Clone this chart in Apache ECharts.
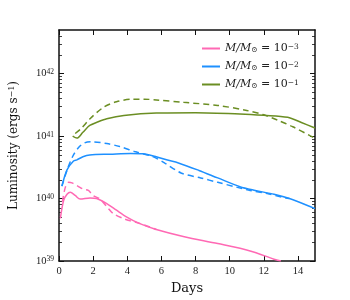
<!DOCTYPE html>
<html>
<head>
<meta charset="utf-8">
<script src="https://cdn.jsdelivr.net/npm/echarts@6/dist/echarts.min.js"></script>
<style>html,body{margin:0;padding:0;background:#fff}#c{width:350px;height:300px}</style>
</head>
<body>
<div id="c"></div>
<script>
// ---- data (days, luminosity in erg/s) ----
var pinkSolidDays = [0.08,0.27,0.47,0.66,0.95,1.24,1.82,2.2,2.8,3.37,3.95,4.7,5.7,7.34,9.3,11.2,12.6,13.0];
var pinkSolidLum  = [4.8e39,9.3e39,1.17e40,1.26e40,1.12e40,9.8e39,1.02e40,1.0e40,8.3e39,6.5e39,5.1e39,4.0e39,3.2e39,2.45e39,1.9e39,1.45e39,1.07e39,1.0e39];
var pinkDashDays  = [0.2,0.37,0.56,0.76,1.1,1.43,1.72,2.0,2.4,2.9,3.18,3.76,4.05,4.73,5.7];
var pinkDashLum   = [8.9e39,1.51e40,1.82e40,1.78e40,1.58e40,1.41e40,1.35e40,1.12e40,9.8e39,6.9e39,5.75e39,4.8e39,4.5e39,4.0e39,3.2e39];

var blueSolidDays = [0.17,0.47,0.85,1.05,1.4,1.8,3.0,4.2,4.9,5.7,6.3,7.0,8.2,9.3,10.6,11.5,12.6,13.5,14.2,15.0];
var blueSolidLum  = [1.58e40,2.88e40,3.98e40,4.17e40,4.68e40,5.0e40,5.13e40,5.25e40,5.2e40,4.68e40,4.17e40,3.72e40,2.82e40,2.14e40,1.55e40,1.35e40,1.17e40,1.0e40,8.5e39,6.9e39];
var blueDashDays  = [0.17,0.5,0.85,1.2,1.5,1.9,2.8,3.56,4.5,5.5,6.2,7.15,8.3,9.3,10.45,11.2,12.2,13.1,13.5];
var blueDashLum   = [1.58e40,3.0e40,5.0e40,6.8e40,7.8e40,8.1e40,7.6e40,6.8e40,5.6e40,4.7e40,3.7e40,2.57e40,2.14e40,1.82e40,1.51e40,1.35e40,1.2e40,1.05e40,1.0e40];

var greenSolidDays = [0.8,1.05,1.4,1.8,2.3,2.8,3.8,5.7,8.0,10.6,12.0,13.4,14.2,15.0];
var greenSolidLum  = [1.0e41,9.3e40,1.15e41,1.48e41,1.7e41,1.9e41,2.14e41,2.34e41,2.37e41,2.26e41,2.15e41,2.0e41,1.65e41,1.35e41];
var greenDashDays  = [0.95,1.3,1.82,2.6,3.37,4.34,5.0,5.7,7.3,9.3,11.0,12.0,12.85,13.7,14.7,15.0];
var greenDashLum   = [1.1e41,1.32e41,1.9e41,2.88e41,3.55e41,3.9e41,3.9e41,3.8e41,3.47e41,3.1e41,2.57e41,2.19e41,1.78e41,1.41e41,1.02e41,9.3e40];

var legendNames = ['M3','M2','M1'];
var legendExps  = ['\u22123','\u22122','\u22121'];
var xTicks = [0,2,4,6,8,10,12,14];
var yMajor = [1e39,1e40,1e41,1e42];
var yMinor = [];
[1e39,1e40,1e41,1e42].forEach(function(d){ for (var k=2;k<=9;k++){ var v=k*d; if (v<=5e42) yMinor.push(v);} });

var PINK='#ff69b4', BLUE='#1e90ff', GREEN='#6b8e23';
function pairs(a,b){ return a.map(function(d,i){ return [d,b[i]]; }); }

var SERIF = '"DejaVu Serif", "Liberation Serif", serif';
var TICKF = '"Liberation Serif", "DejaVu Serif", serif';
var lineW = 1.5;

function mkLine(name, days, lum, color, dashed){
  return {
    name: name, type:'line', xAxisIndex:0, yAxisIndex:0,
    data: pairs(days, lum), showSymbol:false, smooth:0.3,
    clip:true, silent:true,
    lineStyle:{color:color, width:lineW, type: dashed ? [6,4] : 'solid'},
    itemStyle:{color:color}
  };
}

var axisLineStyle = {show:true, lineStyle:{color:'#111', width:1.5}};
var yBase = {type:'log', logBase:10, min:1e39, max:5e42, gridIndex:0, splitLine:{show:false}};

var option = {
  animation:false,
  backgroundColor:'#fff',
  grid:{left:57, right:35, top:30, bottom:35},
  legend:{
    data:legendNames, orient:'vertical', left:197, top:38,
    icon:'rect', itemWidth:18, itemHeight:2, itemGap:7,
    formatter:function(n){ var i=legendNames.indexOf(n);
      return '{i|M/M}{sb|\u2299}{n| = 10}{sp|'+legendExps[i]+'}'; },
    textStyle:{ fontFamily:SERIF, fontSize:11, color:'#222',
      rich:{
        i:{fontFamily:SERIF, fontStyle:'italic', fontSize:11, color:'#222'},
        sb:{fontFamily:SERIF, fontSize:7.5, verticalAlign:'bottom', color:'#222'},
        n:{fontFamily:SERIF, fontSize:11, color:'#222'},
        sp:{fontFamily:SERIF, fontSize:7.5, verticalAlign:'top', color:'#222'}
      }}
  },
  xAxis:[
    {type:'value', min:0, max:15, interval:2, position:'bottom', gridIndex:0,
     axisLine:axisLineStyle, splitLine:{show:false},
     axisTick:{inside:true, length:5, lineStyle:{color:'#111', width:1}, customValues:xTicks},
     axisLabel:{customValues:xTicks, fontFamily:TICKF, fontSize:10.5, color:'#222', margin:5},
     name:'Days', nameLocation:'middle', nameGap:21,
     nameTextStyle:{fontFamily:SERIF, fontSize:13, color:'#111'}},
    {type:'value', min:0, max:15, interval:2, position:'top', gridIndex:0,
     axisLine:axisLineStyle, splitLine:{show:false},
     axisTick:{inside:true, length:5, lineStyle:{color:'#111', width:1}, customValues:xTicks},
     axisLabel:{show:false}}
  ],
  yAxis:[
    Object.assign({}, yBase, {position:'left',
     axisLine:axisLineStyle,
     axisTick:{inside:true, length:5, lineStyle:{color:'#111', width:1}, customValues:yMajor},
     axisLabel:{customValues:yMajor, margin:5, fontFamily:TICKF, color:'#222',
       formatter:function(v){ var e=Math.round(Math.log10(v)); return '{b|10}{s|'+e+'}'; },
       rich:{ b:{fontFamily:TICKF, fontSize:10.5, color:'#222'},
              s:{fontFamily:TICKF, fontSize:7.5, verticalAlign:'top', color:'#222'} }},
     name:'{a|Luminosity (ergs s}{s|\u22121}{a|)}', nameLocation:'middle', nameGap:39, nameRotate:90,
     nameTextStyle:{fontFamily:SERIF, fontSize:12, color:'#111',
       rich:{ a:{fontFamily:SERIF, fontSize:12, color:'#111'},
              s:{fontFamily:SERIF, fontSize:8, verticalAlign:'top', color:'#111'} }}}),
    Object.assign({}, yBase, {position:'left', axisLine:{show:false},
     axisTick:{inside:true, length:3, lineStyle:{color:'#111', width:0.8}, customValues:yMinor},
     axisLabel:{show:false}}),
    Object.assign({}, yBase, {position:'right', axisLine:axisLineStyle,
     axisTick:{inside:true, length:5, lineStyle:{color:'#111', width:1}, customValues:yMajor},
     axisLabel:{show:false}}),
    Object.assign({}, yBase, {position:'right', axisLine:{show:false},
     axisTick:{inside:true, length:3, lineStyle:{color:'#111', width:0.8}, customValues:yMinor},
     axisLabel:{show:false}})
  ],
  series:[
    mkLine('M3', pinkSolidDays, pinkSolidLum, PINK, false),
    mkLine('M2', blueSolidDays, blueSolidLum, BLUE, false),
    mkLine('M1', greenSolidDays, greenSolidLum, GREEN, false),
    mkLine('M3d', pinkDashDays, pinkDashLum, PINK, true),
    mkLine('M2d', blueDashDays, blueDashLum, BLUE, true),
    mkLine('M1d', greenDashDays, greenDashLum, GREEN, true)
  ]
};
var chart = echarts.init(document.getElementById('c'), null, {renderer:'canvas'});
chart.setOption(option);
</script>
</body>
</html>
